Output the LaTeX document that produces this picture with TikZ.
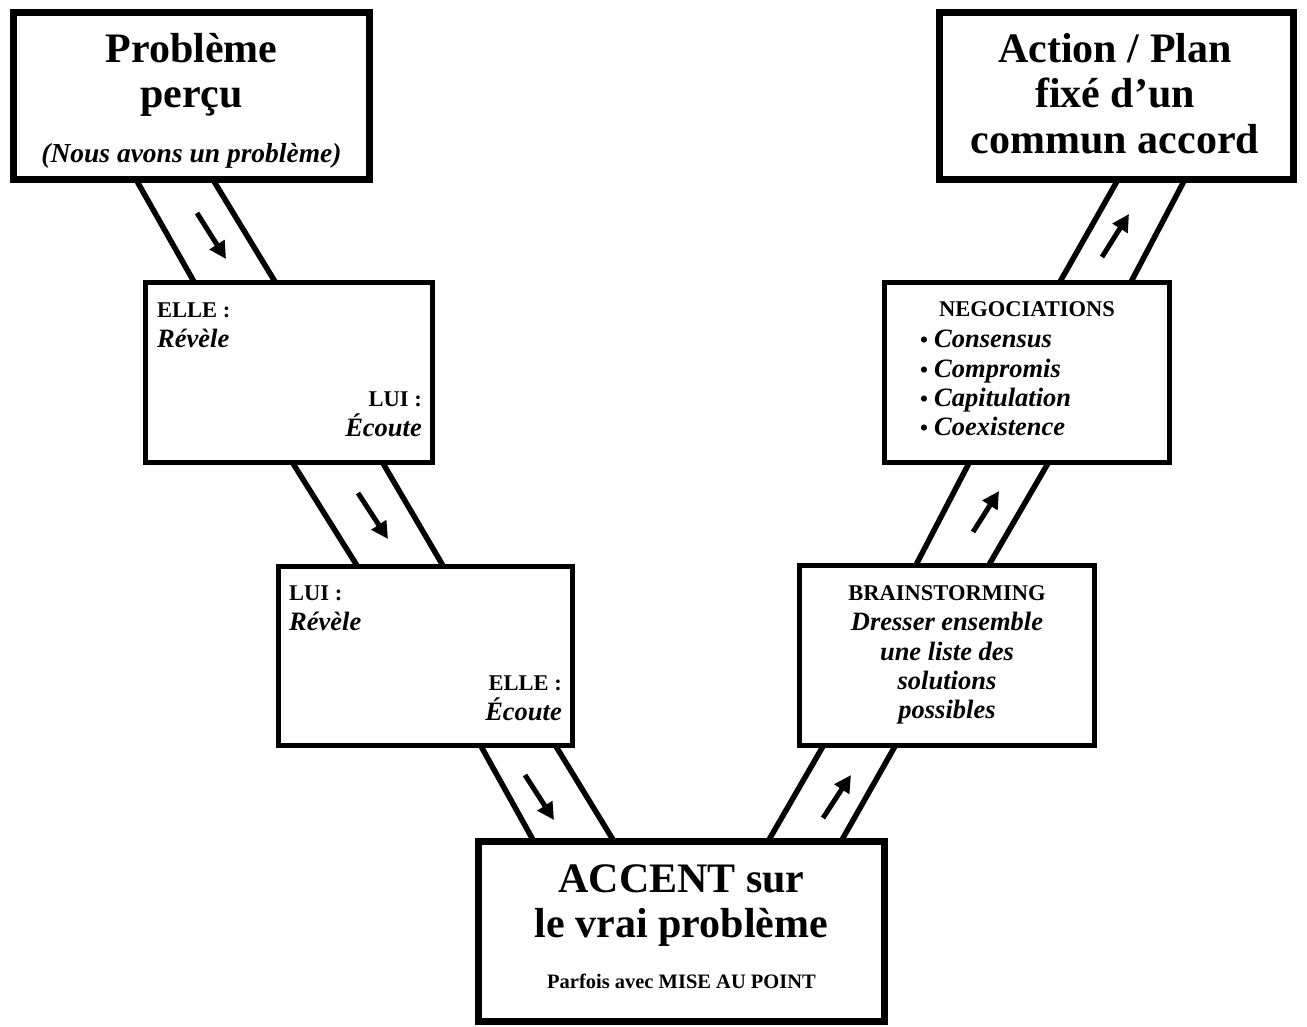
\documentclass[tikz,border=0pt]{standalone}
\usepackage{fontspec}
\setmainfont{Liberation Serif}
\usetikzlibrary{arrows.meta,calc}
\pgfdeclarelayer{background}
\pgfsetlayers{background,main}
\tikzset{
  bigbox/.style={draw, line width=7pt, fill=white, inner sep=0pt},
  smallbox/.style={draw, line width=5pt, fill=white, inner sep=0pt},
  chan/.style={line width=5.5pt},
  flow/.style={line width=5pt, -{Triangle[length=17pt,width=17pt]}},
  bigtxt/.style={inner sep=0pt, anchor=base, font=\fontsize{42}{45}\selectfont\bfseries},
  subtxt/.style={inner sep=0pt, anchor=base, font=\fontsize{27.5}{30}\selectfont\bfseries\itshape},
  notetxt/.style={inner sep=0pt, anchor=base, font=\fontsize{20.5}{24}\selectfont\bfseries},
  lbl/.style={inner sep=0pt, font=\fontsize{22.5}{26}\selectfont\bfseries},
  itl/.style={inner sep=0pt, font=\fontsize{26.5}{30}\selectfont\bfseries\itshape},
}
\begin{document}
\begin{tikzpicture}[x=1pt,y=-1pt]
\useasboundingbox (0,0) rectangle (1307,1026);

% boxes
\node[bigbox, minimum width=356pt, minimum height=167pt] (b1) at (191.5,96) {};
\node[bigbox, minimum width=354pt, minimum height=167pt] (b2) at (1116.5,96) {};
\node[smallbox, minimum width=287pt, minimum height=180pt] (b3) at (289,372.5) {};
\node[smallbox, minimum width=285pt, minimum height=180pt] (b4) at (1027,372.5) {};
\node[smallbox, minimum width=294pt, minimum height=179pt] (b5) at (425.5,656) {};
\node[smallbox, minimum width=295pt, minimum height=180pt] (b6) at (947,655.5) {};
\node[bigbox, minimum width=406pt, minimum height=180pt] (b7) at (681.5,931.5) {};

% channel end points
\coordinate (c1la) at (138,183);  \coordinate (c1lb) at (193,280);
\coordinate (c1ra) at (215,183);  \coordinate (c1rb) at (274,280);
\coordinate (c2la) at (294,465);  \coordinate (c2lb) at (356,564);
\coordinate (c2ra) at (384,465);  \coordinate (c2rb) at (442,564);
\coordinate (c3la) at (482,748);  \coordinate (c3lb) at (532,838);
\coordinate (c3ra) at (557,748);  \coordinate (c3rb) at (612,838);
\coordinate (c4la) at (822,748);  \coordinate (c4lb) at (770,838);
\coordinate (c4ra) at (894,748);  \coordinate (c4rb) at (843,838);
\coordinate (c5la) at (968,465);  \coordinate (c5lb) at (917,563);
\coordinate (c5ra) at (1047,465); \coordinate (c5rb) at (990,563);
\coordinate (c6la) at (1116,183); \coordinate (c6lb) at (1061,280);
\coordinate (c6ra) at (1183,183); \coordinate (c6rb) at (1132,280);

\begin{pgfonlayer}{background}
\foreach \c in {c1l,c1r,c2l,c2r,c3l,c3r,c4l,c4r,c5l,c5r,c6l,c6r}{
  \draw[chan] ($(\c a)!-8pt!(\c b)$) -- ($(\c b)!-8pt!(\c a)$);
}
\end{pgfonlayer}

% flow arrows
\coordinate (a1s) at (197,213);  \coordinate (a1e) at (226,259);
\coordinate (a2s) at (358,493);  \coordinate (a2e) at (388,539);
\coordinate (a3s) at (525,775);  \coordinate (a3e) at (554,820);
\coordinate (a4s) at (823,818);  \coordinate (a4e) at (851,775);
\coordinate (a5s) at (973,532);  \coordinate (a5e) at (999,491);
\coordinate (a6s) at (1102,257); \coordinate (a6e) at (1129,214);
\foreach \a in {a1,a2,a3,a4,a5,a6}{
  \draw[flow] (\a s) -- (\a e);
}

% texts box 1
\node[bigtxt] (t1a) at (191.5,62) {Problème};
\node[bigtxt] (t1b) at (191.5,107) {perçu};
\node[subtxt] (t1c) at (191.5,162) {(Nous avons un problème)};

% texts box 2
\node[bigtxt] (t2a) at (1115,62) {Action / Plan};
\node[bigtxt] (t2b) at (1115,107) {fixé d’un};
\node[bigtxt] (t2c) at (1115,153) {commun accord};

% texts box 3
\node[lbl, anchor=base west] (t3a) at (157,317) {ELLE~:};
\node[itl, anchor=base west] (t3b) at (157,347) {Révèle};
\node[lbl, anchor=base east] (t3c) at (422,406) {LUI~:};
\node[itl, anchor=base east] (t3d) at (422,436) {Écoute};

% texts box 5
\node[lbl, anchor=base west] (t5a) at (289,600) {LUI~:};
\node[itl, anchor=base west] (t5b) at (289,630) {Révèle};
\node[lbl, anchor=base east] (t5c) at (562,690) {ELLE~:};
\node[itl, anchor=base east] (t5d) at (562,720) {Écoute};

% texts box 4
\node[lbl, anchor=base] (t4a) at (1027,316) {NEGOCIATIONS};
\foreach \y/\w [count=\i] in {347/Consensus,377/Compromis,406/Capitulation,435/Coexistence}{
  \node[lbl, anchor=base west] (t4b\i) at (920,\y) {•};
  \node[itl, anchor=base west] (t4t\i) at (934,\y) {\w};
}

% texts box 6
\node[lbl, anchor=base] (t6a) at (947,600) {BRAINSTORMING};
\node[itl, anchor=base] (t6b) at (947,630) {Dresser ensemble};
\node[itl, anchor=base] (t6c) at (947,660) {une liste des};
\node[itl, anchor=base] (t6d) at (947,689) {solutions};
\node[itl, anchor=base] (t6e) at (947,718) {possibles};

% texts box 7
\node[bigtxt] (t7a) at (681.5,892) {ACCENT sur};
\node[bigtxt] (t7b) at (681.5,937) {le vrai problème};
\node[notetxt] (t7c) at (681.5,988) {Parfois avec MISE AU POINT};
\end{tikzpicture}
\end{document}
